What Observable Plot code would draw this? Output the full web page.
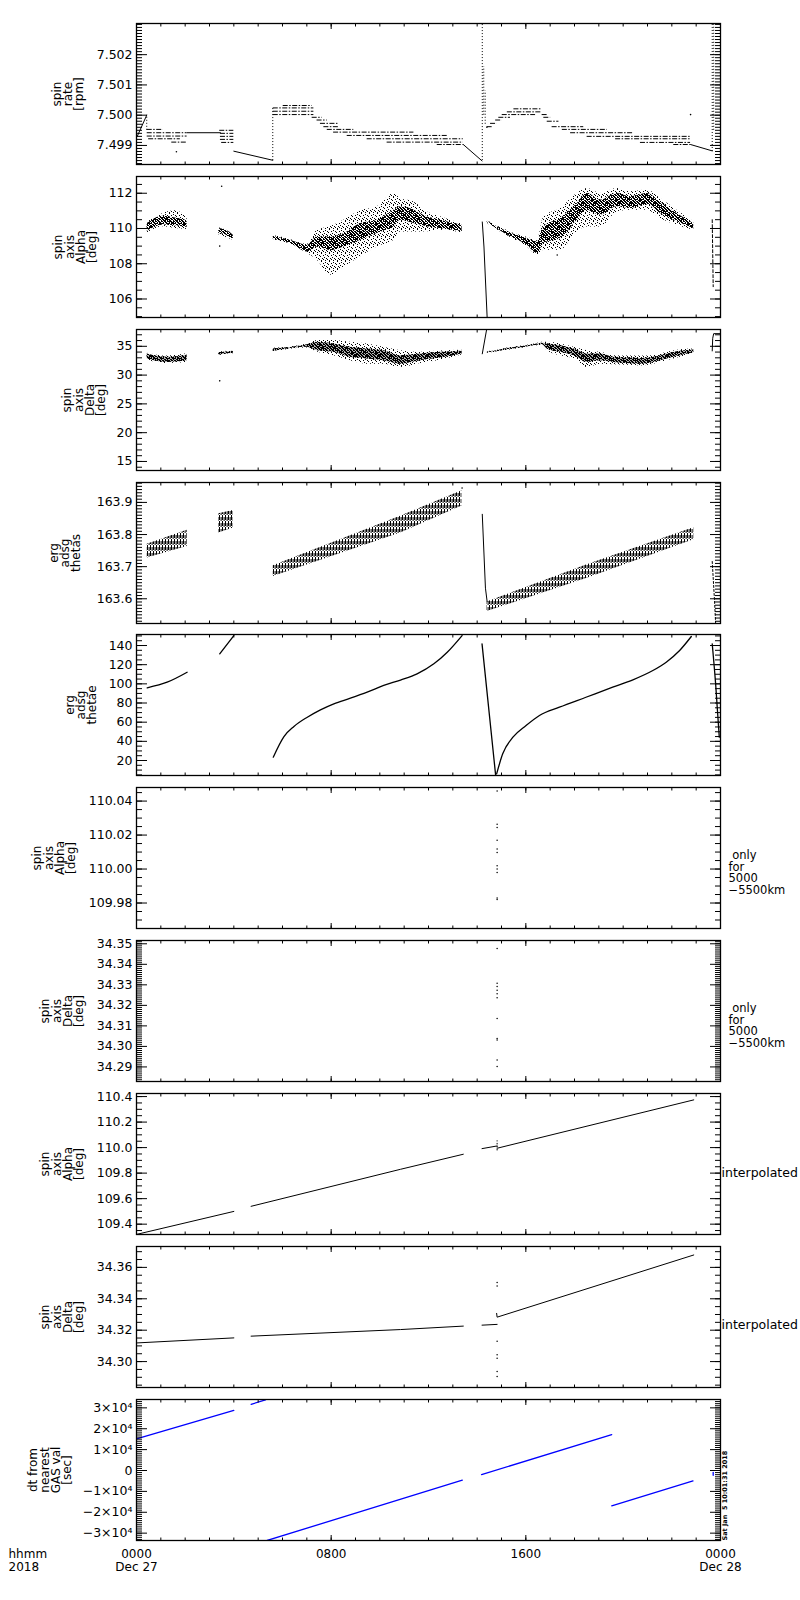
<!DOCTYPE html>
<html><head><meta charset="utf-8">
<script src="https://cdn.jsdelivr.net/npm/d3@7"></script>
<script src="https://cdn.jsdelivr.net/npm/@observablehq/plot@0.6"></script>
<style>
html,body{margin:0;padding:0;background:#fff;}
#chart{position:relative;width:800px;height:1600px;background:#fff;overflow:hidden;}
#chart svg{position:absolute;left:0;}
</style></head><body>
<svg width="0" height="0" style="position:absolute;left:0;top:0">
<defs>
<pattern id="speck" width="8" height="8" patternUnits="userSpaceOnUse">
<rect x="1" y="0" width="1" height="1" fill="#000"/>
<rect x="5" y="1" width="1" height="1" fill="#000"/>
<rect x="3" y="2" width="1" height="1" fill="#000"/>
<rect x="7" y="2" width="1" height="1" fill="#000"/>
<rect x="0" y="3" width="1" height="1" fill="#000"/>
<rect x="4" y="4" width="1" height="1" fill="#000"/>
<rect x="6" y="5" width="1" height="1" fill="#000"/>
<rect x="2" y="5" width="1" height="1" fill="#000"/>
<rect x="1" y="7" width="1" height="1" fill="#000"/>
<rect x="5" y="7" width="1" height="1" fill="#000"/>
<rect x="7" y="6" width="1" height="1" fill="#000"/>
<rect x="3" y="6" width="1" height="1" fill="#000"/>
</pattern>
<pattern id="speck2" width="6" height="6" patternUnits="userSpaceOnUse">
<rect x="0" y="0" width="1" height="1"/><rect x="2" y="0" width="2" height="1"/><rect x="5" y="0" width="1" height="1"/>
<rect x="1" y="1" width="1" height="1"/><rect x="3" y="1" width="2" height="1"/>
<rect x="0" y="2" width="2" height="1"/><rect x="4" y="2" width="2" height="1"/>
<rect x="2" y="3" width="2" height="1"/><rect x="5" y="3" width="1" height="1"/>
<rect x="0" y="4" width="2" height="1"/><rect x="3" y="4" width="2" height="1"/>
<rect x="1" y="5" width="2" height="1"/><rect x="5" y="5" width="1" height="1"/>
</pattern>
<pattern id="vhatch" width="3" height="6" patternUnits="userSpaceOnUse">
<rect x="0" y="0" width="1" height="5" fill="#000"/>
<rect x="1.6" y="2" width="1" height="4" fill="#000"/>
</pattern>
</defs></svg>
<div id="chart"></div>
<script>
// ---------- shared axis data ----------
const HOURS = d3.range(0, 25);
const MAJOR_HOURS = [0, 8, 16, 24];
const X_LABELS = ["0000\nDec 27", "0800", "1600", "0000\nDec 28"];
const PANEL_TOPS = [23, 176, 329, 482, 634, 787, 940, 1093, 1246, 1399];
const FRAME_H = 141;
const STAMP = "Sat Jan  5 10:01:31 2018";

// ---------- panel 1: spin rate ----------
const P1_MAJOR = [7.499, 7.500, 7.501, 7.502];
const P1_LINES = [
  [[0.03, 7.4993], [0.42, 7.5000]],
  [[2.08, 7.49942], [3.45, 7.49942]],
  [[4.0, 7.49881], [5.6, 7.49851]],
  [[13.43, 7.49903], [14.2, 7.49849]],
  [[22.77, 7.49903], [23.66, 7.49882]]
];
const P1_LEVELS = [
  [0.44, 1.1, 7.49953], [0.44, 2.08, 7.49942], [0.44, 2.08, 7.49931], [0.5, 1.8, 7.49922], [1.45, 2.08, 7.49911],
  [3.42, 4.0, 7.4995], [3.45, 4.0, 7.4994], [3.45, 4.0, 7.4993], [3.45, 4.0, 7.4992], [3.5, 4.0, 7.4991],
  [5.62, 7.29, 7.50002], [5.62, 7.29, 7.50013], [5.62, 7.29, 7.50024], [6.03, 7.22, 7.50032],
  [7.22, 7.63, 7.49993], [7.42, 7.84, 7.49984], [7.56, 8.32, 7.49973], [7.7, 8.32, 7.49962], [7.84, 8.93, 7.49953],
  [8.1, 11.4, 7.49944], [8.66, 12.8, 7.49933], [9.48, 13.43, 7.49922], [10.3, 13.43, 7.49911], [12.36, 13.43, 7.49903],
  [14.41, 14.62, 7.49962], [14.55, 14.82, 7.49973], [14.76, 15.03, 7.49984], [14.89, 15.37, 7.49993],
  [15.03, 16.4, 7.50002], [15.24, 16.67, 7.50011], [15.51, 16.67, 7.50021],
  [16.67, 16.88, 7.50002], [16.74, 17.02, 7.49993], [16.88, 17.36, 7.4998], [17.08, 18.38, 7.49962],
  [17.5, 19.35, 7.49953], [17.84, 20.44, 7.49942], [18.52, 22.77, 7.4993], [19.69, 22.77, 7.49922],
  [20.71, 22.77, 7.4991], [22.08, 22.77, 7.49903]
];
const P1_SPIKES = [
  [0.42, 7.4995, 7.5000], [5.6, 7.4985, 7.50025], [14.21, 7.4985, 7.5031], [14.27, 7.5, 7.5016],
  [14.33, 7.4997, 7.5008], [23.66, 7.4988, 7.5031], [23.72, 7.4995, 7.5031]
];
const P1_DOTS = [[1.64, 7.49879], [22.77, 7.50002], [14.4, 7.4996]];

// ---------- panel 2: spin axis Alpha ----------
const P2_MAJOR = [106, 108, 110, 112];
const P2_SPREAD = [
  [[0.44,109.75,110.35],[1.1,110.1,110.85],[1.6,110.0,111.0],[2.08,109.95,110.6]],
  [[3.38,109.65,110.05],[3.98,109.33,109.68]],
  [[5.62,109.33,109.6],[6.33,109.1,109.38],[7.02,108.6,109.1],[7.43,108.2,109.9],[7.97,107.35,110.1],[8.52,107.8,110.47],[9.21,108.4,111.0],[9.89,108.95,111.23],[10.58,109.33,111.99],[10.85,109.8,111.7],[11.4,109.8,111.5],[11.95,109.81,110.94],[12.49,109.9,110.66],[13.38,109.75,110.25]],
  [[14.41,110.3,110.45],[14.96,109.8,110.05],[15.51,109.38,109.72],[16.06,108.95,109.5],[16.47,108.5,109.3],[16.74,108.77,110.66],[17.43,108.77,111.14],[18.11,109.81,111.99],[18.52,110.09,112.27],[19.07,110.09,111.99],[19.76,110.94,112.27],[20.3,111.04,112.08],[20.99,111.04,112.18],[21.53,110.57,111.7],[22.21,110.19,111.04],[22.9,109.9,110.38]]
];
const P2_CORE = [
  [[0.44,109.85,110.28],[1.1,110.2,110.7],[1.6,110.15,110.6],[2.08,110.05,110.45]],
  [[3.38,109.72,110.0],[3.7,109.62,109.9],[3.98,109.38,109.62]],
  [[5.62,109.38,109.56],[6.33,109.15,109.33],[7.02,108.67,109.05],[7.43,108.95,109.52],[7.97,108.75,109.52],[8.52,108.95,109.7],[9.21,109.33,110.28],[9.89,109.72,110.47],[10.58,110.1,111.04],[10.85,110.47,111.23],[11.4,110.28,111.04],[11.95,110.1,110.66],[12.49,110.0,110.47],[13.38,109.81,110.19]],
  [[14.41,110.34,110.43],[14.96,109.86,110.0],[15.51,109.43,109.68],[16.06,109.05,109.43],[16.47,108.58,109.24],[16.74,109.15,110.09],[17.43,109.43,110.57],[18.11,110.47,111.42],[18.52,111.04,111.99],[19.07,110.76,111.61],[19.76,111.23,111.99],[20.3,111.14,111.8],[20.99,111.33,111.99],[21.53,110.85,111.51],[22.21,110.38,110.85],[22.9,110.0,110.28]]
];
const P2_LINES = [
  [[14.21,110.37],[14.28,108.95],[14.41,104.95]],
  [[23.66,110.5],[23.7,106.7]]
];
const P2_DOTS = [[3.5, 112.4], [3.42, 109.0], [17.29, 108.5]];

// ---------- panel 3: spin axis Delta ----------
const P3_MAJOR = [15, 20, 25, 30, 35];
const P3_SPREAD = [
  [[0.44,32.6,33.8],[1.26,32.0,33.3],[2.08,32.2,33.7]],
  [[3.38,33.4,34.0],[3.98,33.7,34.25]],
  [[5.62,34.0,34.65],[7.02,34.7,35.4],[7.43,34.0,36.0],[8.11,33.37,36.0],[8.79,32.5,35.7],[9.48,31.9,35.4],[10.16,31.9,34.83],[10.85,31.33,34.25],[11.67,32.0,33.95],[12.5,32.6,34.2],[13.38,33.5,34.3]],
  [[14.41,33.8,34.1],[14.76,33.95,34.25],[15.24,34.3,34.7],[15.93,34.7,35.1],[16.47,35.1,35.5],[16.67,35.2,35.7],[16.88,34.25,35.7],[17.43,33.37,35.4],[17.98,32.8,34.83],[18.52,31.33,34.25],[19.07,31.9,33.95],[19.62,31.8,33.37],[20.17,31.7,33.3],[20.71,31.6,33.3],[21.26,31.9,33.37],[21.8,32.5,33.95],[22.35,33.08,34.4],[22.9,33.8,34.55]]
];
const P3_CORE = [
  [[0.44,32.8,33.67],[1.26,32.2,33.08],[2.08,32.5,33.5]],
  [[3.38,33.5,33.9],[3.98,33.8,34.15]],
  [[5.62,34.1,34.55],[7.02,34.83,35.25],[7.43,34.25,35.7],[8.11,33.95,35.4],[8.79,33.08,34.83],[9.48,32.8,34.55],[10.16,32.5,34.25],[10.85,31.9,33.37],[11.67,32.5,33.67],[12.5,32.95,33.95],[13.38,33.67,34.15]],
  [[14.41,33.88,34.02],[14.76,34.02,34.17],[15.24,34.4,34.6],[15.93,34.8,35.0],[16.47,35.2,35.4],[16.67,35.3,35.55],[16.88,34.55,35.45],[17.43,33.95,35.1],[17.98,33.37,34.55],[18.52,32.2,33.67],[19.07,32.5,33.67],[19.62,32.2,33.08],[20.17,32.0,33.0],[20.71,31.9,32.9],[21.26,32.2,33.08],[21.8,32.8,33.67],[22.35,33.37,34.15],[22.9,33.9,34.35]]
];
const P3_LINES = [
  [[14.21,33.7],[14.39,37.95]],
  [[23.66,34.2],[23.68,36.4],[23.72,37.2],[24.0,37.2]]
];
const P3_DOTS = [[3.42, 29.0]];

// ---------- panel 4: erg adsg thetas ----------
const P4_MAJOR = [163.6, 163.7, 163.8, 163.9];
const P4_BANDS = [
  [[0.44,163.727,163.77],[2.08,163.763,163.813]],
  [[3.38,163.805,163.865],[3.98,163.82,163.875]],
  [[5.62,163.669,163.703],[10.85,163.805,163.857],[13.38,163.889,163.936]],
  [[14.41,163.56,163.59],[18.52,163.664,163.706],[22.9,163.784,163.821]]
];
const P4_LINES = [
  [[14.21,163.863],[14.34,163.633],[14.41,163.591]],
  [[23.66,163.716],[23.75,163.6],[23.8,163.523]]
];
const P4_DOTS = [[13.38, 163.945]];

// ---------- panel 5: erg adsg thetae ----------
const P5_MAJOR = [20, 40, 60, 80, 100, 120, 140];
const P5_LINES = [
  [[0.44,95.9],[1.26,101.7],[2.08,112.1]],
  [[3.42,131.3],[4.0,150.4]],
  [[5.62,23.5],[6.06,45],[6.47,55.5],[7.02,65.2],[7.56,72.9],[8.11,79.2],[8.79,85],[9.48,91.3],[10.16,98.3],[10.85,104],[11.53,110.4],[12.22,120.9],[12.77,133],[13.38,150.4]],
  [[14.2,141.7],[14.76,4.4]],
  [[14.8,6.1],[15.05,27],[15.47,44.3],[16.01,56.5],[16.56,67],[17.38,75.6],[18.47,86],[19.57,96.5],[20.4,104.2],[21.22,113.9],[21.77,122.6],[22.32,134.8],[22.8,149.4]],
  [[23.66,141.8],[23.8,100],[23.95,44.3]]
];

// ---------- panel 6: spin axis Alpha (5000-5500 km) ----------
const P6_MAJOR = [109.98, 110.00, 110.02, 110.04];
const P6_HOUR = 14.82;
const P6_VALUES = [110.046,110.0264,110.0245,110.017,110.0118,110.0098,110.002,110.0,109.998,109.983,109.982];

// ---------- panel 7: spin axis Delta (5000-5500 km) ----------
const P7_MAJOR = [34.29, 34.30, 34.31, 34.32, 34.33, 34.34, 34.35];
const P7_HOUR = 14.82;
const P7_VALUES = [34.3477,34.3308,34.3292,34.3273,34.3257,34.3237,34.3136,34.3039,34.3031,34.2934,34.2902];

// ---------- panel 8: spin axis Alpha interpolated ----------
const P8_MAJOR = [109.4, 109.6, 109.8, 110.0, 110.2, 110.4];
const P8_LINES = [
  [[0.03,109.321],[4.0,109.50]],
  [[4.71,109.54],[10.85,109.83],[13.43,109.948]],
  [[14.2,109.992],[14.82,110.013]],
  [[14.82,109.995],[22.9,110.374]]
];
const P8_CROSS = [[14.82, 109.974, 110.053]];

// ---------- panel 9: spin axis Delta interpolated ----------
const P9_MAJOR = [34.30, 34.32, 34.34, 34.36];
const P9_LINES = [
  [[0.03,34.3119],[4.0,34.3151]],
  [[4.71,34.3162],[10.85,34.3204],[13.43,34.3226]],
  [[14.2,34.3232],[14.82,34.3237]],
  [[14.8,34.3307],[14.82,34.3283],[22.9,34.3679]]
];
const P9_HOUR = 14.82;
const P9_VALUES = [34.3503, 34.3482, 34.313, 34.3044, 34.3022, 34.2937, 34.2905];

// ---------- panel 10: dt from nearest GAS val ----------
const P10_MAJOR = [-30000, -20000, -10000, 0, 10000, 20000, 30000];
const P10_TICK_LABELS = ["\u22123\u00d710\u2074", "\u22122\u00d710\u2074", "\u22121\u00d710\u2074", "0", "1\u00d710\u2074", "2\u00d710\u2074", "3\u00d710\u2074"];
const P10_LINES = [
  [[0.0,15100],[4.0,28800]],
  [[4.71,31700],[5.3,33800]],
  [[5.37,-33500],[13.39,-4600]],
  [[14.18,-2000],[19.53,17200]],
  [[19.53,-16900],[22.87,-5000]],
  [[23.7,-2300],[23.7,-900]]
];

// ---------- helpers ----------
const rows = segs => segs.flatMap((s, i) => s.map(([h, v]) => ({seg: i, h, v})));
const lines = (segs, o = {}) => Plot.line(rows(segs), {x: "h", y: "v", z: "seg", stroke: "black", strokeWidth: 1, clip: true, ...o});
const bands = (list, fill, o = {}) => list.map(pts => Plot.areaY(pts.map(([h, lo, hi]) => ({h, lo, hi})), {x: "h", y1: "lo", y2: "hi", fill, clip: true, curve: "monotone-x", ...o}));
const dots = (pts, o = {}) => Plot.dot(pts, {x: d => d[0], y: d => d[1], r: 0.8, fill: "black", stroke: "none", clip: true, ...o});
const column = (hour, vals) => Plot.dot(vals, {x: () => hour, y: d => d, r: 0.75, fill: "black", stroke: "none", clip: true});
const vrules = (list, o = {}) => Plot.ruleX(list, {x: d => d[0], y1: d => d[1], y2: d => d[2], stroke: "black", strokeWidth: 1, clip: true, ...o});

function minorTicks(domain, step) {
  const lo = Math.ceil(domain[0] / step - 1e-9), hi = Math.floor(domain[1] / step + 1e-9);
  return d3.range(lo, hi + 1).map(k => +(k * step).toFixed(8));
}

function axisMarks(cfg) {
  const minor = minorTicks(cfg.domain, cfg.minorStep);
  const t = {fill: "none", label: null, stroke: "black", strokeWidth: 1};
  return [
    Plot.axisX(HOURS, {...t, anchor: "top", tickSize: 2.5, dy: 2.5}),
    Plot.axisX(MAJOR_HOURS, {...t, anchor: "top", tickSize: 5, dy: 5}),
    Plot.axisX(HOURS, {...t, anchor: "bottom", tickSize: 2.5, dy: -2.5}),
    Plot.axisX(MAJOR_HOURS, {...t, anchor: "bottom", tickSize: 5, dy: -5}),
    Plot.axisY(minor, {...t, anchor: "left", tickSize: 6, dx: 6}),
    Plot.axisY(cfg.major, {...t, anchor: "left", tickSize: 11, dx: 11}),
    Plot.axisY(minor, {...t, anchor: "right", tickSize: 6, dx: -6}),
    Plot.axisY(cfg.major, {...t, anchor: "right", tickSize: 11, dx: -11}),
    Plot.axisY(cfg.major, {anchor: "left", tickSize: 0, tickPadding: 4, tickFormat: cfg.fmt, label: null, fill: "black", fontSize: 12.5})
  ];
}

const titleMark = (label, cx) => Plot.text([label], {text: d => d, frameAnchor: "left", dx: cx - 136, rotate: -90, textAnchor: "middle", lineAnchor: "middle", lineHeight: 0.92, fontSize: 12, fill: "black"});
const rightNote = (label, dx, dy, fontSize) => Plot.text([label], {text: d => d, frameAnchor: "right", dx, dy, textAnchor: "start", lineAnchor: "middle", lineHeight: 1.0, fontSize, fill: "black"});
const SPECK = "url(#speck)";
const SPECK2 = "url(#speck2)";
const ONLY_NOTE = "\u00a0only\nfor\n5000\n\u22125500km";

const panels = [
  {label: "spin\nrate\n[rpm]", cx: 68, domain: [7.49837, 7.50303], major: P1_MAJOR, minorStep: 0.0001, fmt: d => d.toFixed(3),
   marks: [
     lines(P1_LINES),
     Plot.ruleY(P1_LEVELS, {y: d => d[2], x1: d => d[0], x2: d => d[1], stroke: "black", strokeWidth: 1, strokeDasharray: "5,1.5,1.5,1.5", clip: true}),
     vrules(P1_SPIKES, {strokeDasharray: "1,2"}),
     dots(P1_DOTS)
   ]},
  {label: "spin\naxis\nAlpha\n[deg]", cx: 75, domain: [104.95, 112.95], major: P2_MAJOR, minorStep: 0.5, fmt: d => String(d),
   marks: [
     ...bands(P2_SPREAD, SPECK),
     ...bands(P2_CORE, SPECK2),
     lines(P2_LINES.slice(0, 1)),
     lines(P2_LINES.slice(1), {strokeDasharray: "3,2"}),
     dots(P2_DOTS)
   ]},
  {label: "spin\naxis\nDelta\n[deg]", cx: 84, domain: [13.43, 37.92], major: P3_MAJOR, minorStep: 1, fmt: d => String(d),
   marks: [
     ...bands(P3_SPREAD, SPECK),
     ...bands(P3_CORE, SPECK2),
     ...bands(P3_CORE, "black", {fillOpacity: 0.3}),
     lines(P3_LINES),
     dots(P3_DOTS)
   ]},
  {label: "erg\nadsg\nthetas", cx: 65, domain: [163.523, 163.962], major: P4_MAJOR, minorStep: 0.01, fmt: d => d.toFixed(1),
   marks: [
     ...bands(P4_BANDS, "url(#vhatch)", {curve: "linear"}),
     lines(P4_LINES.slice(0, 1)),
     lines(P4_LINES.slice(1), {strokeDasharray: "2,2"}),
     dots(P4_DOTS)
   ]},
  {label: "erg\nadsg\nthetae", cx: 81, domain: [4.35, 151.5], major: P5_MAJOR, minorStep: 5, fmt: d => String(d),
   marks: [
     lines(P5_LINES, {curve: "monotone-x", strokeWidth: 1.3})
   ]},
  {label: "spin\naxis\nAlpha\n[deg]", cx: 54, domain: [109.965, 110.048], major: P6_MAJOR, minorStep: 0.005, fmt: d => d.toFixed(2),
   note: [ONLY_NOTE, 8, 15, 11.5],
   marks: [column(P6_HOUR, P6_VALUES)]},
  {label: "spin\naxis\nDelta\n[deg]", cx: 62, domain: [34.2829, 34.3516], major: P7_MAJOR, minorStep: 0.001, fmt: d => d.toFixed(2),
   note: [ONLY_NOTE, 8, 15, 11.5],
   marks: [column(P7_HOUR, P7_VALUES)]},
  {label: "spin\naxis\nAlpha\n[deg]", cx: 62, domain: [109.319, 110.424], major: P8_MAJOR, minorStep: 0.05, fmt: d => d.toFixed(1),
   note: ["interpolated", 1, 9, 12.5],
   marks: [lines(P8_LINES), vrules(P8_CROSS, {strokeDasharray: "1.5,1.5"})]},
  {label: "spin\naxis\nDelta\n[deg]", cx: 62, domain: [34.2835, 34.3733], major: P9_MAJOR, minorStep: 0.005, fmt: d => d.toFixed(2),
   note: ["interpolated", 1, 8, 12.5],
   marks: [lines(P9_LINES), column(P9_HOUR, P9_VALUES)]},
  {label: "dt from\nnearest\nGAS val\n[sec]", cx: 50, domain: [-33520, 34000], major: P10_MAJOR, minorStep: 1000,
   fmt: d => P10_TICK_LABELS[P10_MAJOR.indexOf(d)],
   marks: [lines(P10_LINES, {stroke: "#0000ff", strokeWidth: 1.3})]}
];

const chart = document.getElementById("chart");
panels.forEach((cfg, i) => {
  const last = i === panels.length - 1;
  const mt = 3, mb = last ? 54 : 3;
  const extra = [];
  if (cfg.note) extra.push(rightNote(...cfg.note));
  if (last) {
    extra.push(Plot.axisX(MAJOR_HOURS, {anchor: "bottom", tickSize: 0, tickPadding: 9, label: null, fill: "black", fontSize: 12, lineHeight: 1.05,
      tickFormat: d => X_LABELS[MAJOR_HOURS.indexOf(d)]}));
    extra.push(Plot.text(["hhmm\n2018"], {text: d => d, frameAnchor: "bottom-left", dx: 8 - 136, dy: 9, textAnchor: "start", lineAnchor: "top", lineHeight: 1.05, fontSize: 12, fill: "black"}));
    extra.push(Plot.text([STAMP], {text: d => d, frameAnchor: "bottom-right", dx: 4, rotate: -90, textAnchor: "start", lineAnchor: "middle", fontSize: 6.5, fontWeight: "bold", fill: "black"}));
  }
  const svg = Plot.plot({
    width: 800, height: FRAME_H + mt + mb,
    marginTop: mt, marginBottom: mb, marginLeft: 136, marginRight: 80,
    x: {domain: [0, 24], axis: null},
    y: {domain: cfg.domain, axis: null},
    style: {fontFamily: "'DejaVu Sans', sans-serif", fontSize: "12.5px", background: "transparent", color: "black", overflow: "visible"},
    marks: [
      ...cfg.marks,
      ...axisMarks(cfg),
      Plot.frame({stroke: "black", strokeWidth: 1.3}),
      titleMark(cfg.label, cfg.cx),
      ...extra
    ]
  });
  svg.style.top = (PANEL_TOPS[i] - mt) + "px";
  chart.append(svg);
});
</script>
</body></html>
